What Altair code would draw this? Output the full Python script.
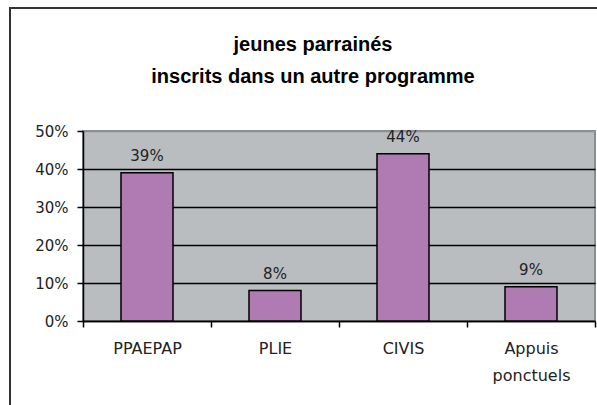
import altair as alt
import pandas as pd

categories = ["PPAEPAP", "PLIE", "CIVIS", "Appuis ponctuels"]
values = [0.39, 0.08, 0.44, 0.09]
labels = ["39%", "8%", "44%", "9%"]
y_ticks = [0, 0.1, 0.2, 0.3, 0.4, 0.5]
title_lines = ["jeunes parrainés", "inscrits dans un autre programme"]

df = pd.DataFrame({"cat": categories, "val": values, "lab": labels})

FONT = "DejaVu Sans"

x_enc = alt.X(
    "cat:N",
    sort=categories,
    title=None,
    scale=alt.Scale(paddingInner=0, paddingOuter=0),
    axis=alt.Axis(
        labelAngle=0,
        labelFont=FONT,
        labelFontSize=16,
        labelColor="#222222",
        labelPadding=13,
        labelLineHeight=27,
        labelExpr="datum.value ? split(datum.value, ' ') : ''",
        tickBand="extent",
        tickSize=6,
        tickColor="black",
        tickWidth=1.5,
        domainColor="black",
        domainWidth=1.5,
        grid=False,
    ),
)

y_enc = alt.Y(
    "val:Q",
    title=None,
    scale=alt.Scale(domain=[0, 0.5], nice=False),
    axis=alt.Axis(
        values=y_ticks,
        format=".0%",
        labelOverlap=False,
        labelFont=FONT,
        labelFontSize=15,
        labelColor="#222222",
        labelPadding=9,
        tickSize=6,
        tickColor="black",
        tickWidth=1.5,
        domainColor="black",
        domainWidth=1.5,
        grid=True,
        gridColor={"condition": {"test": "datum.value >= 0.5", "value": "#8c9093"}, "value": "black"},
        gridWidth=1.5,
    ),
)

frame = alt.Chart(df).mark_rect(
    fill=None, stroke="#333333", strokeWidth=2
).encode(
    x=alt.value(-73), x2=alt.value(560), y=alt.value(-123), y2=alt.value(300)
)

bars = alt.Chart(df).mark_bar(
    size=52, color="#b07ab3", stroke="black", strokeWidth=1.5
).encode(x=x_enc, y=y_enc)

text = alt.Chart(df).mark_text(
    baseline="alphabetic", dy=-12, font=FONT, fontSize=15, color="#222222"
).encode(x=x_enc, y=y_enc, text="lab:N")

chart = alt.layer(frame, bars, text).properties(
    width=512,
    height=190,
    padding={"left": 83, "top": 131, "right": 2, "bottom": 84},
    autosize=alt.AutoSizeParams(type="none"),
    title=alt.TitleParams(
        text=title_lines,
        font="Liberation Sans",
        fontSize=20,
        fontWeight="bold",
        color="black",
        anchor="middle",
        frame="group",
        dx=-26,
        offset=-80,
        lineHeight=32,
    ),
).configure_view(
    fill="#b9bdc0", stroke="#8c9093", strokeWidth=2
)

chart.save("out.html", embed_options={"renderer": "svg", "actions": False})
